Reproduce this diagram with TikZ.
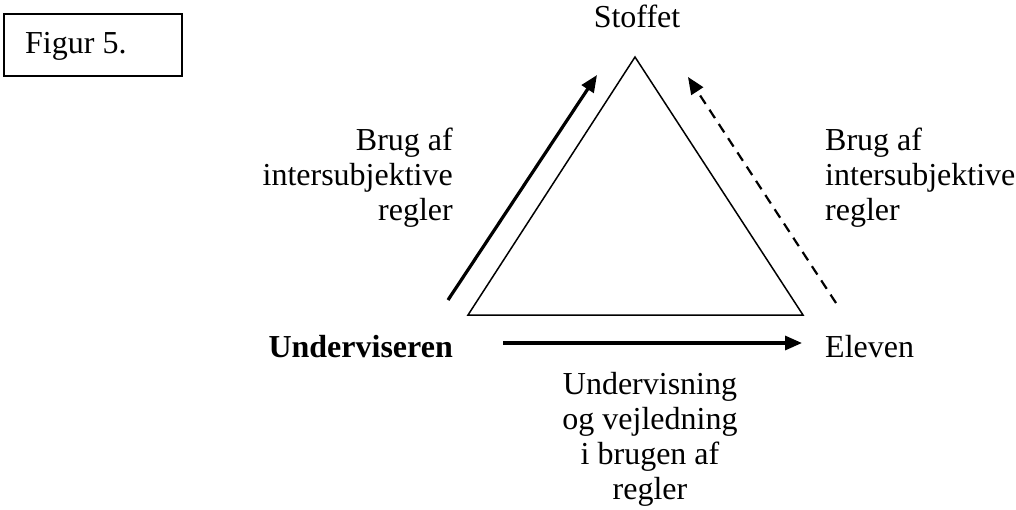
\documentclass[tikz,border=0pt]{standalone}
\usepackage{fontspec}
\setmainfont{Liberation Serif}
\usetikzlibrary{arrows.meta}
\begin{document}
\begin{tikzpicture}[x=1pt,y=-1pt,
  txt/.style={inner sep=0pt,font=\fontsize{32}{35}\selectfont},
  thickarrow/.style={line width=3.2pt,-{Triangle[length=17pt,width=14pt]}},
  dasharrow/.style={line width=2.2pt,dash pattern=on 10pt off 7pt,-{Triangle[length=17pt,width=14pt]}},
  tri/.style={line width=1.5pt,line join=miter}
]
\useasboundingbox (0,0) rectangle (1016,509);

% caption box
\draw[line width=1.5pt] (4,14) rectangle (182,76);
\node[txt,anchor=base west] (fig) at (25,53) {Figur 5.};

% triangle
\coordinate (top) at (635,57);
\coordinate (bl) at (468,315);
\coordinate (br) at (803,315);
\draw[tri] (top) -- (bl) -- (br) -- cycle;

% corner labels
\node[txt,anchor=base] (stoffet) at (637,27) {Stoffet};
\node[txt,anchor=base east,font=\fontsize{32}{35}\selectfont\bfseries] (underv) at (453,357) {Underviseren};
\node[txt,anchor=base west] (eleven) at (825,357) {Eleven};

% side labels
\node[txt,anchor=north east,align=right] (lefttxt) at (453,128)
  {Brug af\\intersubjektive\\regler};
\node[txt,anchor=north west,align=left] (righttxt) at (825,128)
  {Brug af\\intersubjektive\\regler};
\node[txt,anchor=north,align=center] (bottomtxt) at (650,372)
  {Undervisning\\og vejledning\\i brugen af\\regler};

% arrows
\coordinate (la1) at (448,300);
\coordinate (la2) at (597,75);
\coordinate (ra1) at (836,303);
\coordinate (ra2) at (688,77);
\coordinate (ba1) at (503,343);
\coordinate (ba2) at (802,343);
\draw[thickarrow] (la1) -- (la2);
\draw[dasharrow] (ra1) -- (ra2);
\draw[thickarrow] (ba1) -- (ba2);
\end{tikzpicture}
\end{document}
